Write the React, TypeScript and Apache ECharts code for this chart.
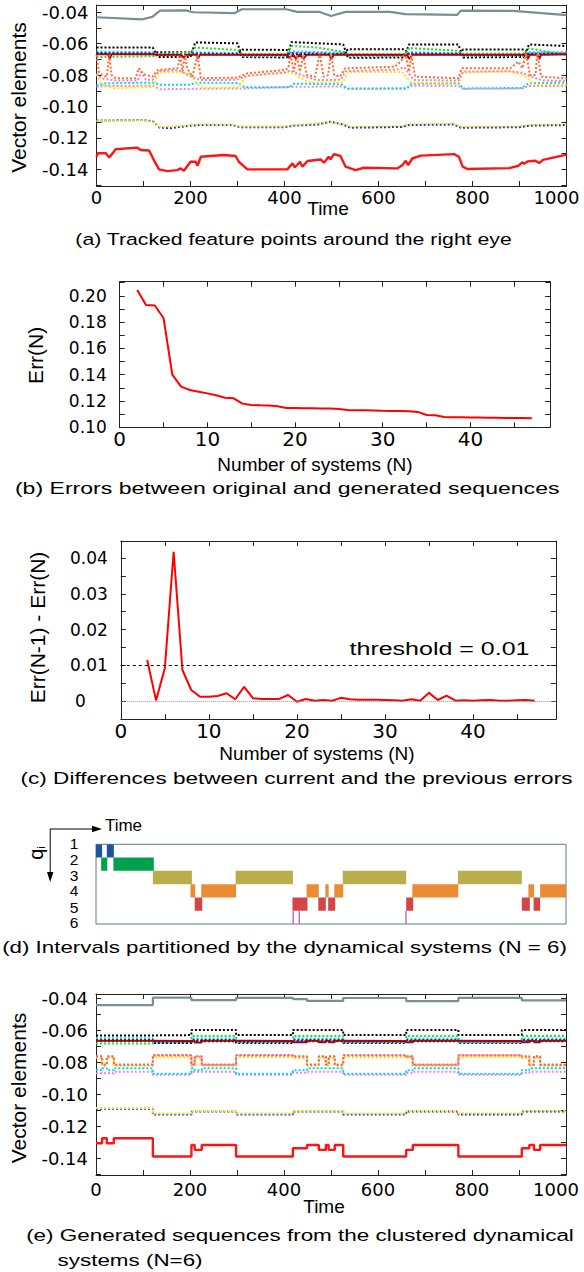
import React, { useEffect, useRef } from 'react';
import * as echarts from 'echarts';

// ---------------- DATA ----------------
// Panel (a): tracked feature points, [time, value]
const aGrey = [[0,-0.0432],[98,-0.0445],[119,-0.0430],[135,-0.0390],[190,-0.0388],[206,-0.0400],[293,-0.0406],[309,-0.0381],[404,-0.0381],[427,-0.0398],[475,-0.0398],[499,-0.0424],[530,-0.0398],[625,-0.0398],[657,-0.0412],[767,-0.0417],[775,-0.0390],[886,-0.0392],[934,-0.0402],[1000,-0.0419]];
const aBlack1 = [[0,-0.0625],[120,-0.0625],[130,-0.0685],[200,-0.0685],[210,-0.0592],[300,-0.0598],[310,-0.0685],[405,-0.0688],[415,-0.059],[525,-0.0605],[535,-0.069],[655,-0.0688],[665,-0.0605],[770,-0.0605],[780,-0.0688],[910,-0.0685],[920,-0.0605],[1000,-0.0615]];
const aBlack2 = [[0,-0.0662],[120,-0.0665],[130,-0.0655],[200,-0.0655],[210,-0.0668],[300,-0.0668],[310,-0.0638],[405,-0.064],[415,-0.0668],[525,-0.0668],[535,-0.0635],[655,-0.0635],[665,-0.0668],[770,-0.0668],[780,-0.0638],[910,-0.0638],[920,-0.0668],[1000,-0.0668]];
const aGreen = [[0,-0.0685],[120,-0.068],[130,-0.0665],[200,-0.0655],[210,-0.0625],[300,-0.064],[310,-0.0668],[405,-0.0668],[415,-0.0615],[470,-0.0625],[525,-0.0652],[535,-0.0668],[655,-0.0668],[665,-0.0628],[770,-0.0645],[780,-0.0665],[910,-0.0665],[920,-0.063],[1000,-0.0672]];
const aCyan = [[0,-0.065],[120,-0.0655],[130,-0.067],[200,-0.0668],[210,-0.0655],[300,-0.066],[310,-0.0678],[405,-0.0678],[415,-0.065],[525,-0.0658],[535,-0.0678],[655,-0.0678],[665,-0.0655],[770,-0.066],[780,-0.0678],[910,-0.0678],[920,-0.0655],[1000,-0.0655]];
const aBlue = [[0,-0.066],[120,-0.0662],[130,-0.0672],[200,-0.067],[210,-0.0662],[300,-0.0665],[310,-0.0672],[405,-0.0672],[415,-0.066],[525,-0.0665],[535,-0.0672],[655,-0.0672],[665,-0.0662],[770,-0.0665],[780,-0.0672],[910,-0.0672],[920,-0.0662],[1000,-0.0662]];
const aDarkRed = [[0,-0.0668],[25,-0.0668],[28,-0.0695],[32,-0.0668],[120,-0.0668],[130,-0.067],[180,-0.067],[185,-0.069],[190,-0.067],[212,-0.067],[216,-0.0695],[220,-0.067],[405,-0.067],[410,-0.069],[418,-0.067],[425,-0.0695],[432,-0.067],[440,-0.0695],[448,-0.067],[495,-0.067],[500,-0.0698],[505,-0.067],[660,-0.067],[666,-0.0698],[672,-0.067],[915,-0.067],[918,-0.0695],[922,-0.067],[938,-0.067],[942,-0.0698],[946,-0.067],[1000,-0.0668]];
const aOrange = [[0,-0.0672],[5,-0.0778],[12,-0.080],[22,-0.081],[27,-0.0672],[32,-0.080],[41,-0.082],[83,-0.082],[90,-0.0757],[101,-0.0795],[119,-0.081],[130,-0.0768],[172,-0.0757],[178,-0.0683],[183,-0.0778],[188,-0.0672],[193,-0.0757],[204,-0.081],[215,-0.0672],[222,-0.082],[300,-0.0816],[321,-0.0789],[399,-0.0768],[408,-0.0757],[413,-0.0672],[420,-0.0778],[426,-0.0672],[433,-0.0778],[440,-0.0672],[447,-0.080],[465,-0.081],[475,-0.0661],[483,-0.081],[493,-0.080],[499,-0.0661],[506,-0.080],[518,-0.081],[529,-0.0757],[635,-0.0747],[650,-0.0704],[657,-0.0661],[665,-0.0778],[670,-0.0672],[678,-0.081],[770,-0.082],[777,-0.0757],[880,-0.0757],[898,-0.0715],[906,-0.0757],[914,-0.066],[922,-0.0799],[934,-0.0799],[938,-0.066],[946,-0.081],[1000,-0.0821]];
const aPink = [[0,-0.079],[10,-0.082],[40,-0.0835],[88,-0.0835],[95,-0.078],[105,-0.083],[120,-0.083],[132,-0.0775],[175,-0.0768],[185,-0.0785],[205,-0.0815],[222,-0.0832],[298,-0.083],[320,-0.0805],[400,-0.0785],[412,-0.077],[445,-0.081],[470,-0.0832],[520,-0.083],[530,-0.0775],[640,-0.0765],[655,-0.075],[675,-0.0832],[770,-0.0835],[780,-0.0778],[880,-0.0775],[905,-0.0785],[925,-0.081],[950,-0.0835],[1000,-0.0836]];
const aYellow = [[0,-0.0795],[10,-0.086],[40,-0.0885],[120,-0.0875],[132,-0.0785],[175,-0.0782],[200,-0.079],[215,-0.086],[230,-0.0882],[300,-0.0878],[320,-0.0805],[405,-0.0778],[420,-0.079],[450,-0.0845],[525,-0.0845],[535,-0.078],[650,-0.078],[670,-0.085],[770,-0.0855],[780,-0.0785],[880,-0.0778],[910,-0.08],[930,-0.086],[1000,-0.0862]];
const aCyanLow = [[0,-0.0865],[20,-0.0852],[120,-0.0848],[135,-0.0862],[200,-0.0862],[210,-0.0848],[300,-0.085],[315,-0.0878],[410,-0.0878],[420,-0.0855],[520,-0.0858],[535,-0.0885],[660,-0.0885],[670,-0.0855],[770,-0.0852],[780,-0.0885],[905,-0.0882],[920,-0.0852],[1000,-0.0848]];
const aMagentaLow = [[0,-0.0875],[20,-0.087],[120,-0.0868],[135,-0.089],[300,-0.0885],[315,-0.0885],[420,-0.0875],[520,-0.0872],[535,-0.0888],[660,-0.0885],[670,-0.0868],[770,-0.0868],[780,-0.0888],[905,-0.0886],[920,-0.087],[1000,-0.087]];
const aYellowLow = [[0,-0.1092],[100,-0.1088],[120,-0.11],[135,-0.113],[190,-0.1122],[215,-0.1113],[290,-0.1115],[305,-0.1128],[400,-0.1128],[420,-0.1118],[498,-0.11],[525,-0.1112],[540,-0.113],[650,-0.1126],[665,-0.1113],[760,-0.111],[775,-0.113],[900,-0.1128],[920,-0.1118],[1000,-0.1115]];
const aBlueLow = [[0,-0.109],[50,-0.1088],[100,-0.1086],[120,-0.1095],[135,-0.1135],[160,-0.1138],[190,-0.1125],[215,-0.1118],[290,-0.1118],[305,-0.1132],[400,-0.1132],[420,-0.1122],[470,-0.1115],[498,-0.1097],[525,-0.1115],[540,-0.1135],[650,-0.113],[665,-0.1118],[760,-0.1115],[775,-0.1135],[900,-0.1132],[920,-0.1122],[1000,-0.1118]];
const aRed = [[0,-0.132],[3,-0.1298],[20,-0.1298],[27,-0.1324],[41,-0.1272],[87,-0.1262],[94,-0.1277],[112,-0.128],[122,-0.1341],[133,-0.14],[151,-0.1411],[172,-0.1405],[179,-0.1394],[186,-0.1409],[200,-0.1352],[211,-0.1352],[215,-0.1377],[222,-0.132],[271,-0.1309],[296,-0.1315],[303,-0.1352],[321,-0.14],[406,-0.14],[417,-0.1362],[422,-0.1387],[433,-0.1352],[438,-0.1383],[449,-0.1347],[477,-0.1337],[484,-0.1358],[494,-0.132],[498,-0.1337],[505,-0.1303],[519,-0.1315],[530,-0.1383],[551,-0.1405],[569,-0.139],[640,-0.1394],[651,-0.1373],[658,-0.1345],[663,-0.1373],[672,-0.1331],[690,-0.1313],[761,-0.1303],[771,-0.132],[779,-0.1383],[789,-0.1398],[878,-0.1392],[898,-0.1377],[906,-0.1355],[910,-0.1365],[918,-0.1349],[934,-0.1345],[942,-0.136],[950,-0.134],[1000,-0.1306]];

// Panel (b): error vs number of systems
const bN = [2,3,4,5,6,7,8,9,10,11,12,13,14,15,16,17,18,19,20,21,22,23,24,25,26,27,28,29,30,31,32,33,34,35,36,37,38,39,40,41,42,43,44,45,46,47];
const bErr = [0.2044,0.1929,0.1926,0.1831,0.1400,0.1309,0.1284,0.1271,0.1258,0.1243,0.1225,0.1220,0.1180,0.1170,0.1167,0.1165,0.1160,0.1147,0.1147,0.1145,0.1144,0.1143,0.1142,0.1140,0.1132,0.1130,0.1129,0.1127,0.1125,0.1124,0.1123,0.1122,0.1117,0.1094,0.1091,0.1079,0.1077,0.1076,0.1075,0.1074,0.1073,0.1072,0.1071,0.1070,0.1070,0.1069];

// Panel (c): differences
const cN = [3,4,5,6,7,8,9,10,11,12,13,14,15,16,17,18,19,20,21,22,23,24,25,26,27,28,29,30,31,32,33,34,35,36,37,38,39,40,41,42,43,44,45,46,47];
const cDiff = [0.0115,0.0002,0.0092,0.0418,0.0087,0.0031,0.0012,0.0012,0.0014,0.0022,0.0005,0.0040,0.0008,0.0006,0.0006,0.0006,0.0017,-0.0002,0.0006,0.0001,0.0003,0.0001,0.0009,0.0005,0.0004,0.0004,0.0004,0.0003,0.0002,0.0001,0.0005,0.0001,0.0023,0.0003,0.0015,0.0001,0.0002,0.0001,0.0002,0.0003,0.0001,0.0001,0.0002,0.0003,0.0001];
const cThreshold = 0.01;

// Panel (d): intervals [start, end, system]
const dIntervals = [
  [0,13,1],[23,38,1],
  [11,24,2],[37,123,2],
  [121,204,3],[297,419,3],[525,660,3],[770,906,3],
  [201,211,4],[224,298,4],[448,474,4],[488,495,4],[507,526,4],[673,771,4],[920,932,4],[945,1000,4],
  [210,226,5],[418,450,5],[473,489,5],[494,509,5],[660,675,5],[906,923,5],[931,945,5],
  [418,421,6],[431,434,6],[658,661,6],
];
const dRowLabels = ['1','2','3','4','5','6'];

// Panel (e): generated sequences (piecewise constant), [time, value]
const eGrey = [[0,-0.0442],[121,-0.0396],[203,-0.0411],[298,-0.0397],[419,-0.0405],[449,-0.0416],[526,-0.0398],[660,-0.0417],[771,-0.0397],[906,-0.0413],[1000,-0.0413]];
const eBlack1 = [[0,-0.0632],[121,-0.063],[203,-0.0598],[298,-0.063],[419,-0.0598],[526,-0.063],[660,-0.0598],[771,-0.063],[906,-0.0598],[1000,-0.0598]];
const eBlack2 = [[0,-0.0665],[121,-0.0679],[203,-0.0668],[298,-0.0679],[419,-0.0668],[526,-0.0679],[660,-0.0668],[771,-0.0679],[906,-0.0668],[1000,-0.0668]];
const eGreen = [[0,-0.0682],[121,-0.0668],[203,-0.0636],[298,-0.0668],[419,-0.0636],[526,-0.0668],[660,-0.0636],[771,-0.0668],[906,-0.0636],[1000,-0.0636]];
const eCyan = [[0,-0.065],[121,-0.0674],[203,-0.0652],[298,-0.0674],[419,-0.0652],[526,-0.0674],[660,-0.0652],[771,-0.0674],[906,-0.0652],[1000,-0.0652]];
const eBlue = [[0,-0.066],[121,-0.0671],[203,-0.0661],[298,-0.0671],[419,-0.0661],[526,-0.0671],[660,-0.0661],[771,-0.0671],[906,-0.0661],[1000,-0.0661]];
const eDarkRed = [[0,-0.0666],[121,-0.0667],[203,-0.0665],[210,-0.0676],[225,-0.0665],[298,-0.0667],[419,-0.0674],[449,-0.0665],[474,-0.0674],[489,-0.0665],[495,-0.0674],[508,-0.0665],[526,-0.0667],[660,-0.0674],[674,-0.0665],[771,-0.0667],[906,-0.0674],[922,-0.0665],[932,-0.0674],[945,-0.0665],[1000,-0.0665]];
const ePink = [[0,-0.0765],[13,-0.0817],[23,-0.0765],[38,-0.0817],[121,-0.0754],[203,-0.0817],[210,-0.0765],[225,-0.0817],[298,-0.0754],[419,-0.0765],[449,-0.0817],[474,-0.0765],[489,-0.0817],[495,-0.0765],[508,-0.0817],[526,-0.0754],[660,-0.0765],[674,-0.0817],[771,-0.0754],[906,-0.0765],[922,-0.0817],[932,-0.0765],[945,-0.0817],[1000,-0.0817]];
const eOrange = [[0,-0.0762],[13,-0.0814],[23,-0.0762],[38,-0.0814],[121,-0.0757],[203,-0.0814],[210,-0.0762],[225,-0.0814],[298,-0.0757],[419,-0.0762],[449,-0.0814],[474,-0.0762],[489,-0.0814],[495,-0.0762],[508,-0.0814],[526,-0.0757],[660,-0.0762],[674,-0.0814],[771,-0.0757],[906,-0.0762],[922,-0.0814],[932,-0.0762],[945,-0.0814],[1000,-0.0814]];
const eYellow = [[0,-0.0772],[13,-0.0822],[23,-0.0772],[38,-0.0822],[121,-0.0768],[203,-0.0822],[210,-0.0775],[225,-0.0822],[298,-0.0768],[419,-0.0775],[449,-0.0822],[474,-0.0775],[489,-0.0822],[495,-0.0775],[508,-0.0822],[526,-0.0768],[660,-0.0775],[674,-0.0822],[771,-0.0768],[906,-0.0775],[922,-0.0822],[932,-0.0775],[945,-0.0822],[1000,-0.0822]];
const eCyanLow = [[0,-0.085],[13,-0.0838],[23,-0.085],[38,-0.0838],[121,-0.0872],[203,-0.0838],[210,-0.085],[225,-0.0838],[298,-0.0872],[419,-0.085],[449,-0.0838],[526,-0.0872],[660,-0.085],[674,-0.0838],[771,-0.0872],[906,-0.085],[922,-0.0838],[1000,-0.0838]];
const eMagentaLow = [[0,-0.0868],[38,-0.086],[121,-0.0878],[203,-0.086],[298,-0.0878],[419,-0.0866],[449,-0.086],[526,-0.0878],[660,-0.0866],[674,-0.086],[771,-0.0878],[906,-0.0866],[922,-0.086],[1000,-0.086]];
const eYellowLow = [[0,-0.1086],[121,-0.1121],[203,-0.1104],[298,-0.1121],[419,-0.1104],[526,-0.1121],[660,-0.1104],[771,-0.1121],[906,-0.1104],[1000,-0.1104]];
const eBlueLow = [[0,-0.109],[121,-0.1126],[203,-0.1108],[298,-0.1126],[419,-0.1108],[526,-0.1126],[660,-0.1108],[771,-0.1126],[906,-0.1108],[1000,-0.1108]];
const eRed = [[0,-0.1306],[13,-0.1275],[23,-0.1306],[38,-0.1275],[121,-0.1389],[203,-0.1317],[210,-0.1348],[225,-0.1317],[298,-0.1389],[419,-0.1338],[449,-0.1317],[474,-0.1348],[489,-0.1317],[495,-0.1348],[508,-0.1317],[526,-0.1389],[660,-0.1348],[674,-0.1317],[771,-0.1389],[906,-0.1338],[922,-0.1317],[932,-0.1348],[945,-0.1317],[1000,-0.1317]];

// Tick / label values
const tXLabels = [0,200,400,600,800,1000];
const tXTicks = [0,100,200,300,400,500,600,700,800,900,1000];
const vYLabels = [-0.14,-0.12,-0.10,-0.08,-0.06,-0.04];
const vYTicks = [-0.15,-0.14,-0.13,-0.12,-0.11,-0.10,-0.09,-0.08,-0.07,-0.06,-0.05,-0.04];
const nXLabels = [0,10,20,30,40];
const nXTicks = [0,5,10,15,20,25,30,35,40,45];
const bYLabels = [0.10,0.12,0.14,0.16,0.18,0.20];
const bYTicks = [0.10,0.11,0.12,0.13,0.14,0.15,0.16,0.17,0.18,0.19,0.20,0.21];
const cYLabels = [0,0.01,0.02,0.03,0.04];
const cYTicks = [0,0.005,0.01,0.015,0.02,0.025,0.03,0.035,0.04];

// ---------------- STYLE / LAYOUT ----------------
const W = 584, H = 1272;
const SANS = '"Liberation Sans", Arial, sans-serif';
const DV = '"DejaVu Sans", sans-serif';
const AX = '#222';
const stateColors = ['#2152a0', '#00a04e', '#b9ae4c', '#e98c33', '#d44545', '#b46cc4'];

function measure(text: string, size: number, family: string) {
  const c = document.createElement('canvas').getContext('2d')!;
  c.font = `${size}px ${family}`;
  return c.measureText(text).width;
}

function axisDef(gi: number, min: number, max: number, labels: number[], ticks: number[], lab: any, pos: string, show: boolean) {
  return {
    type: 'value', gridIndex: gi, min, max, position: pos,
    splitLine: { show: false },
    axisLine: { show: true, onZero: false, lineStyle: { color: AX, width: 1 } },
    axisTick: { show: true, inside: true, length: 5, customValues: ticks, lineStyle: { color: AX, width: 1 } },
    axisLabel: show
      ? { show: true, customValues: labels, margin: lab.margin, fontSize: lab.size, fontFamily: lab.family, color: '#000', formatter: lab.fmt, rich: lab.rich }
      : { show: false },
  };
}
const xPair = (gi: number, min: number, max: number, labels: number[], ticks: number[], lab: any) =>
  [axisDef(gi, min, max, labels, ticks, lab, 'bottom', true), axisDef(gi, min, max, labels, ticks, lab, 'top', false)];
const yPair = (gi: number, min: number, max: number, labels: number[], ticks: number[], lab: any) =>
  [axisDef(gi, min, max, labels, ticks, lab, 'left', true), axisDef(gi, min, max, labels, ticks, lab, 'right', false)];

function line(data: any[], color: string, dotted: boolean, ai: number, step?: string, width?: number) {
  return {
    type: 'line', xAxisIndex: ai, yAxisIndex: ai, data, showSymbol: false, symbol: 'none', silent: true,
    step: step || false,
    lineStyle: { color, width: width || 2, type: dotted ? [2, 2] : 'solid', cap: 'butt' },
  };
}

function text(t: string, x: number, y: number, size: number, extra: any = {}) {
  return {
    type: 'text', x, y, rotation: extra.rotation || 0, scaleX: extra.scaleX || 1, silent: true,
    style: {
      text: t, fontSize: size, fontFamily: extra.family || SANS, fill: extra.fill || '#000',
      align: extra.align || 'center', verticalAlign: 'middle', rich: extra.rich, lineHeight: extra.lineHeight,
    },
  };
}
function caption(t: string, cx: number, y: number, targetW: number, align = 'center') {
  const size = 17;
  const w = measure(t, size, SANS);
  return text(t, cx, y, size, { scaleX: targetW / w, align });
}

function buildOption() {
  const fmt2 = (v: number) => v.toFixed(2);
  const fmtC = (v: number) => (Math.abs(v) < 1e-9 ? '{z|0}' : v.toFixed(2));
  const fmtT = (v: number) => (v === 1000 ? '{m|1000}' : String(v));
  const ylab = { margin: 8, size: 18, family: DV, fmt: fmt2 };
  const tlabA = { margin: 2, size: 18, family: DV, fmt: fmtT, rich: { m: { fontSize: 18, fontFamily: DV, color: '#000', padding: [0, 20, 0, 0] } } };
  const tlabE = { ...tlabA, margin: 5 };
  const grids = [
    { left: 96.5, top: 5, width: 470, height: 181 },
    { left: 119.7, top: 281.7, width: 430.5, height: 145.6 },
    { left: 120.8, top: 541, width: 435, height: 178.3 },
    { left: 96, top: 844.3, width: 470, height: 79.7, show: true, borderColor: '#5f7d80', borderWidth: 1, backgroundColor: 'transparent' },
    { left: 96, top: 994, width: 470, height: 181 },
  ].map((g) => ({ containLabel: false, outerBoundsMode: 'none', ...g }));

  const xAxes: any[] = [
    ...xPair(0, 0, 1000, tXLabels, tXTicks, tlabA),
    ...xPair(1, 0, 49.1, nXLabels, nXTicks, { margin: 2, size: 20, family: DV }),
    ...xPair(2, 0, 49.4, nXLabels, nXTicks, { margin: 2, size: 20, family: DV }),
    { type: 'value', gridIndex: 3, min: 0, max: 1000, show: false },
    ...xPair(4, 0, 1000, tXLabels, tXTicks, tlabE),
  ];
  const yAxes: any[] = [
    ...yPair(0, -0.1506, -0.0354, vYLabels, vYTicks, ylab),
    ...yPair(1, 0.1, 0.2107, bYLabels, bYTicks, { margin: 13, size: 17, family: DV, fmt: fmt2 }),
    ...yPair(2, -0.0051, 0.0448, cYLabels, cYTicks, { margin: 13, size: 17, family: DV, fmt: fmtC, rich: { z: { fontSize: 17, fontFamily: DV, color: '#000', padding: [0, 22, 0, 0] } } }),
    { type: 'value', gridIndex: 3, min: 0, max: 6, inverse: true, show: false },
    ...yPair(4, -0.1505, -0.0373, vYLabels, vYTicks, ylab),
  ];

  const A = 0, B = 2, C = 4, D = 6, E = 7;
  const series: any[] = [
    line(aBlack2, '#000', true, A), line(aBlack1, '#000', true, A), line(aGreen, '#1ee01e', true, A),
    line(aCyan, '#00dede', true, A), line(aBlue, '#2020ff', true, A), line(aDarkRed, '#b00000', false, A),
    line(aMagentaLow, '#ee80ee', true, A), line(aCyanLow, '#00d8f0', true, A), line(aYellow, '#f2ea00', true, A),
    line(aPink, '#ff78c0', true, A), line(aOrange, '#ff6a30', true, A),
    line(aBlueLow, '#2222ff', true, A), line(aYellowLow, '#f2ea00', true, A),
    line(aGrey, '#7a8e94', false, A, undefined, 2.2), line(aRed, '#ff1414', false, A, undefined, 2.4),

    { type: 'line', xAxisIndex: B, yAxisIndex: B, data: bN.map((n, i) => [n, bErr[i]]), showSymbol: false, symbol: 'none', silent: true, lineStyle: { color: '#ff0000', width: 2 } },

    {
      type: 'line', xAxisIndex: C, yAxisIndex: C, data: cN.map((n, i) => [n, cDiff[i]]), showSymbol: false, symbol: 'none', silent: true,
      lineStyle: { color: '#ff0000', width: 2 },
      markLine: {
        silent: true, symbol: 'none', label: { show: false },
        data: [
          { yAxis: 0, lineStyle: { color: '#999', type: 'dotted', width: 1 } },
          { yAxis: cThreshold, lineStyle: { color: '#000', type: [3, 3], width: 1 } },
        ],
      },
    },

    {
      type: 'custom', xAxisIndex: D, yAxisIndex: D, data: dIntervals, silent: true, clip: true,
      encode: { x: [0, 1], y: 2 },
      renderItem: (params: any, api: any) => {
        const s = api.value(0), e = api.value(1), st = api.value(2);
        const p1 = api.coord([s, st - 1]);
        const p2 = api.coord([e, st]);
        return {
          type: 'rect',
          shape: { x: p1[0], y: p1[1], width: Math.max(p2[0] - p1[0], 1.2), height: p2[1] - p1[1] },
          style: { fill: stateColors[st - 1] },
        };
      },
    },

    line(eBlack2, '#000', true, E, 'end'), line(eBlack1, '#000', true, E, 'end'), line(eGreen, '#1ee01e', true, E, 'end'),
    line(eCyan, '#00dede', true, E, 'end'), line(eBlue, '#2020ff', true, E, 'end'), line(eDarkRed, '#b00000', false, E, 'end'),
    line(eMagentaLow, '#ee80ee', true, E, 'end'), line(eCyanLow, '#00d8f0', true, E, 'end'), line(eYellow, '#f2ea00', true, E, 'end'),
    line(ePink, '#ff78c0', true, E, 'end'), line(eOrange, '#ff6a30', true, E, 'end'),
    line(eBlueLow, '#2222ff', true, E, 'end'), line(eYellowLow, '#f2ea00', true, E, 'end'),
    line(eGrey, '#7a8e94', false, E, 'end', 2.2), line(eRed, '#ff1414', false, E, 'end', 2.4),
  ];

  const rowYs = [843, 859, 875, 890, 907, 922];
  const graphic: any[] = [
    // axis titles
    text('Vector elements', 18.6, 97.5, 21, { rotation: Math.PI / 2 }),
    text('Time', 328, 208.3, 19),
    text('Err(N)', 35, 355.3, 21, { rotation: Math.PI / 2 }),
    text('Number of systems (N)', 315, 464, 19),
    text('Err(N-1) - Err(N)', 37.2, 627.5, 21, { rotation: Math.PI / 2 }),
    text('Number of systems (N)', 317, 753, 19),
    text('threshold = 0.01', 439.5, 648.3, 19, { scaleX: 180 / measure('threshold = 0.01', 19, SANS) }),
    text('Vector elements', 18.6, 1088, 21, { rotation: Math.PI / 2 }),
    text('Time', 324, 1206.7, 19),
    // panel (d) decorations
    { type: 'line', silent: true, shape: { x1: 50.2, y1: 829, x2: 50.2, y2: 874 }, style: { stroke: '#000', lineWidth: 1 } },
    { type: 'polygon', silent: true, shape: { points: [[50.2, 882], [47, 872], [53.4, 872]] }, style: { fill: '#000' } },
    { type: 'line', silent: true, shape: { x1: 50.2, y1: 829, x2: 94, y2: 829 }, style: { stroke: '#000', lineWidth: 1 } },
    { type: 'polygon', silent: true, shape: { points: [[102, 829], [92, 825.8], [92, 832.2]] }, style: { fill: '#000' } },
    text('Time', 123.5, 825.7, 17),
    text('{q|q}{i|i}', 36, 853, 20, {
      rotation: Math.PI / 2,
      rich: { q: { fontSize: 20, fontFamily: SANS, fill: '#000' }, i: { fontSize: 11, fontFamily: SANS, fill: '#000', verticalAlign: 'bottom', padding: [10, 0, 0, 0] } },
    }),
    ...dRowLabels.map((l, i) => text(l, 74, rowYs[i], 15.5, { lineHeight: 15 })),
    // captions
    caption('(a) Tracked feature points around the right eye', 293.5, 239, 437),
    caption('(b) Errors between original and generated sequences', 287.2, 488.3, 544.6),
    caption('(c) Differences between current and the previous errors', 296.5, 778.3, 552),
    caption('(d) Intervals partitioned by the dynamical systems (N = 6)', 284.5, 946.7, 565),
    caption('(e) Generated sequences from the clustered dynamical', 300, 1235, 548),
    caption('systems (N=6)', 57.6, 1260, 145, 'left'),
  ];

  return {
    animation: false,
    backgroundColor: '#fff',
    grid: grids,
    xAxis: xAxes,
    yAxis: yAxes,
    series,
    graphic,
  };
}

export default function App() {
  const ref = useRef<HTMLDivElement>(null);
  useEffect(() => {
    const chart = echarts.init(ref.current!, null, { renderer: 'svg' });
    chart.setOption(buildOption() as any);
    return () => chart.dispose();
  }, []);
  return <div ref={ref} style={{ position: 'absolute', left: 0, top: 0, width: W, height: H, background: '#fff' }} />;
}
